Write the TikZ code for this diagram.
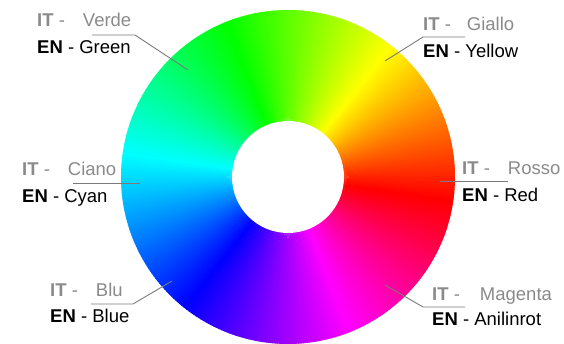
\documentclass[tikz,border=0pt]{standalone}
\usepackage{fontspec}
\setmainfont{Liberation Sans}
\usetikzlibrary{positioning, calc}
\definecolor{itgray}{HTML}{8A8A8A}
\definecolor{leadgray}{HTML}{7A7A7A}

\begin{document}
\begin{tikzpicture}[x=1pt, y=1pt,
    itlabel/.style={anchor=base west, inner sep=0pt, text=itgray, font=\fontsize{18.5}{22}\selectfont},
    enlabel/.style={anchor=base west, inner sep=0pt, text=black, font=\fontsize{18.5}{22}\selectfont},
    leader/.style={draw=leadgray, line width=0.9pt},
]
    \useasboundingbox (0,0) rectangle (564,344);

    % Hue wheel
    \coordinate (wheel) at (288,167);
    \foreach \a in {0,...,359}{
        \pgfmathsetmacro{\hue}{mod(\a+8,360)}
        \definecolor{huecol}{Hsb}{\hue,1,1}
        \fill[huecol] (wheel) -- ++(\a-0.7:167) arc[start angle=\a-0.7, end angle=\a+0.7, radius=167] -- cycle;
    }
    \node[circle, fill=white, minimum size=112pt, inner sep=0pt] (hole) at (wheel) {};

    % Labels
    \node[itlabel] (verdeIT) at (37,317) {\textbf{IT} -\hspace{18pt}Verde};
    \node[enlabel] (verdeEN) at ([yshift=-27pt]verdeIT.base west) {\textbf{EN} - Green};

    \node[itlabel] (gialloIT) at (423,313) {\textbf{IT} -\hspace{16pt}Giallo};
    \node[enlabel] (gialloEN) at ([yshift=-27pt]gialloIT.base west) {\textbf{EN} - Yellow};

    \node[itlabel] (cianoIT) at (22,168) {\textbf{IT} -\hspace{18pt}Ciano};
    \node[enlabel] (cianoEN) at ([yshift=-27pt]cianoIT.base west) {\textbf{EN} - Cyan};

    \node[itlabel] (rossoIT) at (462,169) {\textbf{IT} -\hspace{18pt}Rosso};
    \node[enlabel] (rossoEN) at ([yshift=-27pt]rossoIT.base west) {\textbf{EN} - Red};

    \node[itlabel] (bluIT) at (50,47) {\textbf{IT} -\hspace{18pt}Blu};
    \node[enlabel] (bluEN) at ([yshift=-26pt]bluIT.base west) {\textbf{EN} - Blue};

    \node[itlabel] (magentaIT) at (432,43) {\textbf{IT} -\hspace{20pt}Magenta};
    \node[enlabel] (magentaEN) at ([yshift=-25pt]magentaIT.base west) {\textbf{EN} - Anilinrot};

    % Leader lines
    \coordinate (verdeA) at ([shift={(55,-8)}]verdeIT.base west);
    \coordinate (verdeB) at ([shift={(98,-8)}]verdeIT.base west);
    \coordinate (verdeTip) at ($(wheel)+(-100,107)$);
    \draw[leader] (verdeA) -- (verdeB) -- (verdeTip);

    \coordinate (gialloA) at ([shift={(0,-6)}]gialloIT.base west);
    \coordinate (gialloB) at ([shift={(42,-6)}]gialloIT.base west);
    \coordinate (gialloTip) at ($(wheel)+(97,116)$);
    \draw[leader] (gialloTip) -- (gialloA) -- (gialloB);

    \coordinate (cianoA) at ([shift={(51,-7)}]cianoIT.base west);
    \coordinate (cianoTip) at ($(wheel)+(-148,-6)$);
    \draw[leader] (cianoA) -- (cianoTip);

    \coordinate (rossoB) at ([shift={(46,-6)}]rossoIT.base west);
    \coordinate (rossoTip) at ($(wheel)+(152,-4)$);
    \draw[leader] (rossoTip) -- (rossoB);

    \coordinate (bluA) at ([shift={(41,-7)}]bluIT.base west);
    \coordinate (bluB) at ([shift={(83,-7)}]bluIT.base west);
    \coordinate (bluTip) at ($(wheel)+(-116,-104)$);
    \draw[leader] (bluA) -- (bluB) -- (bluTip);

    \coordinate (magentaA) at ([shift={(-9,-6)}]magentaIT.base west);
    \coordinate (magentaB) at ([shift={(33,-6)}]magentaIT.base west);
    \coordinate (magentaTip) at ($(wheel)+(97,-108)$);
    \draw[leader] (magentaTip) -- (magentaA) -- (magentaB);
\end{tikzpicture}
\end{document}
